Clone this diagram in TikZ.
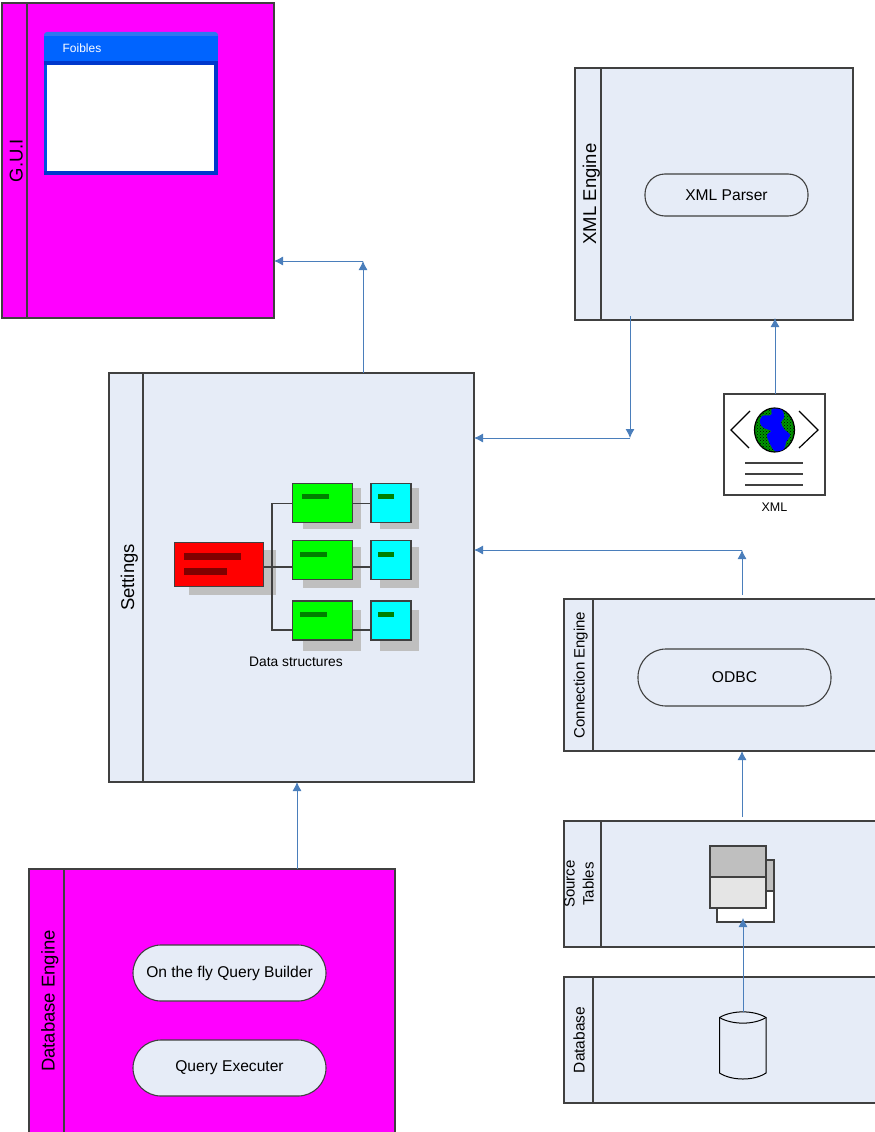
\documentclass[tikz,border=0pt]{standalone}
\usepackage{fontspec}
\setmainfont{Liberation Sans}
\usetikzlibrary{shapes,arrows.meta,patterns}
\definecolor{paleblue}{HTML}{E6ECF7}
\definecolor{edgegrey}{HTML}{404040}
\definecolor{flowblue}{HTML}{4A7EBB}
\definecolor{shadowgrey}{HTML}{BFBFBF}
\definecolor{winblue}{HTML}{0064FF}
\definecolor{windark}{HTML}{0038CC}
\definecolor{winside}{HTML}{0050E0}
\definecolor{winlight}{HTML}{2E78F0}
\definecolor{hotpink}{HTML}{FF00FF}
\definecolor{aqua}{HTML}{00FFFF}
\definecolor{lime}{HTML}{00FF00}
\definecolor{redcard}{HTML}{FF0000}
\definecolor{redbar}{HTML}{800000}
\definecolor{greenbar}{HTML}{008000}
\tikzstyle{lane} = [draw=edgegrey, line width=1.1pt, fill=paleblue, rectangle, inner sep=0pt, outer sep=0pt, anchor=north west]
\tikzstyle{hotlane} = [lane, fill=hotpink]
\tikzstyle{lanehead} = [draw=edgegrey, line width=1.1pt, rectangle, inner sep=0pt, outer sep=0pt, rotate=90, font=\fontsize{18.5}{19}\selectfont, align=center]
\tikzstyle{onehead} = [lanehead, text height=16pt, text depth=0pt]
\tikzstyle{pill} = [draw=edgegrey, line width=1.1pt, fill=paleblue, rectangle, rounded corners=20pt, inner sep=0pt, outer sep=0pt, font=\fontsize{15.6}{17}\selectfont]
\tikzstyle{card} = [draw=edgegrey, line width=1.1pt, rectangle, inner sep=0pt, outer sep=0pt, anchor=north west]
\tikzstyle{shade} = [fill=shadowgrey, rectangle, inner sep=0pt, outer sep=0pt, anchor=north west]
\tikzstyle{bar} = [rectangle, inner sep=0pt, outer sep=0pt, anchor=north west]
\tikzstyle{tree} = [draw=edgegrey, line width=1.1pt]
\tikzstyle{flow} = [draw=flowblue, line width=0.9pt, -{Latex[length=9pt,width=9pt]}]
\tikzstyle{caption} = [font=\fontsize{12.5}{14}\selectfont]
\tikzstyle{thin} = [draw=black, line width=1.2pt]

\begin{document}
\begin{tikzpicture}[x=1pt,y=-1pt]
\useasboundingbox (0,0) rectangle (875,1132);

% lanes
\node[hotlane, name=gui, minimum width=272pt, minimum height=315pt] at (2,3) {};
\node[onehead, name=guihead, minimum width=315pt, minimum height=25pt] at (14.5,160.5) {G.U.I};
\node[lane, name=settings, minimum width=365pt, minimum height=409pt] at (109,373) {};
\node[onehead, name=settingshead, minimum width=409pt, minimum height=34pt] at (126,577.5) {Settings};
\node[lane, name=xmlengine, minimum width=278pt, minimum height=252pt] at (575,68) {};
\node[onehead, name=xmlhead, minimum width=252pt, minimum height=26pt] at (588,194) {XML Engine};
\node[lane, name=connection, minimum width=320pt, minimum height=152pt] at (564,599) {};
\node[onehead, name=connhead, minimum width=152pt, minimum height=29pt, font=\fontsize{15}{16}\selectfont, text height=12pt] at (578.5,675) {Connection Engine};
\node[lane, name=tables, minimum width=320pt, minimum height=126pt] at (564,821) {};
\node[lanehead, name=tableshead, minimum width=126pt, minimum height=37pt, font=\fontsize{15}{19}\selectfont, text depth=7pt] at (582.5,884) {Source\\Tables};
\node[lane, name=database, minimum width=320pt, minimum height=126pt] at (564,977) {};
\node[onehead, name=databasehead, minimum width=126pt, minimum height=29pt, font=\fontsize{15.5}{16}\selectfont, text height=12pt] at (578.5,1040) {Database};
\node[hotlane, name=dbengine, minimum width=366pt, minimum height=266pt] at (29,869) {};
\node[onehead, name=dbenginehead, minimum width=264pt, minimum height=35pt] at (46.5,1001) {Database Engine};

% window
\node[bar, name=wintop, fill=winlight, rounded corners=3pt, minimum width=174pt, minimum height=10pt] at (44,32) {};
\node[bar, name=wintitle, fill=winblue, minimum width=174pt, minimum height=25pt] at (44,36) {};
\node[bar, name=winband, fill=windark, minimum width=174pt, minimum height=4pt] at (44,61) {};
\node[bar, name=winleft, fill=winside, minimum width=4pt, minimum height=110pt] at (44,65) {};
\node[bar, name=winright, fill=windark, minimum width=4pt, minimum height=110pt] at (214,65) {};
\node[bar, name=winbottom, fill=windark, minimum width=174pt, minimum height=4pt] at (44,171) {};
\node[bar, name=winpane, fill=white, minimum width=167pt, minimum height=106pt] at (47,65) {};
\node[name=wintext, text=white, font=\fontsize{12}{14}\selectfont] at (82,48) {Foibles};

% pills
\node[pill, name=parser, minimum width=163pt, minimum height=42pt] at (726.5,195) {XML Parser};
\node[pill, name=odbc, minimum width=193pt, minimum height=57pt, rounded corners=28pt] at (734.5,677.5) {ODBC};
\node[pill, name=builder, minimum width=193pt, minimum height=56pt, rounded corners=28pt] at (229.5,973) {On the fly Query Builder};
\node[pill, name=executer, minimum width=193pt, minimum height=56pt, rounded corners=28pt] at (229.5,1068) {Query Executer};

% data structures
\node[shade, name=redshade, minimum width=87pt, minimum height=45pt] at (189,550) {};
\node[card, name=red, fill=redcard, minimum width=89pt, minimum height=44pt] at (174.5,542.5) {};
\node[bar, name=redbara, fill=redbar, minimum width=57pt, minimum height=7pt] at (184,553) {};
\node[bar, name=redbarb, fill=redbar, minimum width=43pt, minimum height=7pt] at (184,568) {};
\node[shade, name=shadea, minimum width=58pt, minimum height=41pt] at (303,488) {};
\node[shade, name=shadeb, minimum width=58pt, minimum height=41pt] at (303,547) {};
\node[shade, name=shadec, minimum width=58pt, minimum height=41pt] at (303,610) {};
\node[shade, name=shaded, minimum width=39pt, minimum height=41pt] at (380,488) {};
\node[shade, name=shadee, minimum width=39pt, minimum height=41pt] at (380,547) {};
\node[shade, name=shadef, minimum width=39pt, minimum height=41pt] at (380,610) {};
\node[card, name=greena, fill=lime, minimum width=60pt, minimum height=39pt] at (292.5,483.5) {};
\node[card, name=greenb, fill=lime, minimum width=60pt, minimum height=39pt] at (292.5,540.5) {};
\node[card, name=greenc, fill=lime, minimum width=60pt, minimum height=39pt] at (292.5,601) {};
\node[card, name=cyana, fill=aqua, minimum width=40pt, minimum height=39pt] at (371,483.5) {};
\node[card, name=cyanb, fill=aqua, minimum width=40pt, minimum height=39pt] at (371,540.5) {};
\node[card, name=cyanc, fill=aqua, minimum width=40pt, minimum height=39pt] at (371,601) {};
\node[bar, name=barga, fill=greenbar, minimum width=27pt, minimum height=5pt] at (302,494) {};
\node[bar, name=bargb, fill=greenbar, minimum width=27pt, minimum height=5pt] at (299.5,551.5) {};
\node[bar, name=bargc, fill=greenbar, minimum width=27pt, minimum height=5pt] at (299.5,611.5) {};
\node[bar, name=barca, fill=greenbar, minimum width=16pt, minimum height=5pt] at (378,494) {};
\node[bar, name=barcb, fill=greenbar, minimum width=16pt, minimum height=5pt] at (378,551.5) {};
\node[bar, name=barcc, fill=greenbar, minimum width=16pt, minimum height=5pt] at (377.5,611.5) {};
\node[caption, name=datalabel, font=\fontsize{13.8}{15}\selectfont] at (296,661.5) {Data structures};

\coordinate (Ta) at (272,503.5);
\coordinate (Tb) at (272,567);
\coordinate (Tc) at (272,630);
\draw[tree] (greena.west |- Ta) -- (Ta) -- (Tc) -- (greenc.west |- Tc);
\draw[tree] (red.east |- Tb) -- (greenb.west |- Tb);
\draw[tree] (greena.east |- Ta) -- (cyana.west |- Ta);
\draw[tree] (greenb.east |- Tb) -- (cyanb.west |- Tb);
\draw[tree] (greenc.east |- Tc) -- (cyanc.west |- Tc);

% xml document
\node[card, fill=white, name=xmldoc, minimum width=101pt, minimum height=101pt] at (724,394) {};
\node[caption, name=xmllabel] at (774.5,507.5) {XML};
\draw[thin] (750,411) -- (731,430) -- (749,448);
\draw[thin] (799,411) -- (818,430) -- (799,448);
\draw[draw=black, line width=1.2pt, pattern=crosshatch dots, pattern color=black, preaction={fill=green!60!black}] (774.5,430) ellipse (20pt and 22pt);
\fill[blue] plot[smooth cycle, tension=0.6] coordinates {(772,409) (782,410) (784,418) (781,422) (784,429) (790,435) (786,442) (784,449) (775,451) (769,442) (767,435) (771,431) (764,428) (760,423) (762,416) (771,415)};
\draw[edgegrey, line width=1.1pt] (745,463) -- (803,463);
\draw[edgegrey, line width=1.1pt] (745,474) -- (803,474);
\draw[edgegrey, line width=1.1pt] (745,485) -- (803,485);

% source tables
\node[card, name=backtable, fill=white, minimum width=57pt, minimum height=62pt] at (717,860) {};
\node[card, name=backhead, fill=shadowgrey, minimum width=57pt, minimum height=31pt] at (717,860) {};
\node[card, name=fronttable, fill=black!10, minimum width=56pt, minimum height=62pt] at (710,846) {};
\node[card, name=fronthead, fill=shadowgrey, minimum width=56pt, minimum height=31pt] at (710,846) {};

% cylinder
\draw[draw=black, line width=1pt, fill=paleblue] (719.5,1017.5) .. controls (732,1010) and (754,1010) .. (766,1017.5) -- (766,1073) .. controls (754,1081) and (732,1081) .. (719.5,1073) -- cycle;
\draw[draw=black, line width=1pt] (719.5,1017.5) .. controls (732,1025) and (754,1025) .. (766,1017.5);
\coordinate (drum) at (743,1012);

% connectors
\coordinate (guiturn) at (363,261);
\coordinate (xmlturn) at (630,438);
\coordinate (xmlstart) at (630,316);
\coordinate (connturn) at (742,550);
\coordinate (connstart) at (742,595);
\coordinate (tablestart) at (742,817);
\coordinate (tableend) at (743,918);
\coordinate (docend) at (775,318);
\coordinate (dbstart) at (297,869);
\draw[flow] (settings.north -| guiturn) -- (guiturn);
\draw[flow] (guiturn) -- (gui.east |- guiturn);
\draw[flow] (xmlstart) -- (xmlturn);
\draw[flow] (xmlturn) -- (settings.east |- xmlturn);
\draw[flow] (xmldoc.north -| docend) -- (docend);
\draw[flow] (connstart) -- (connturn);
\draw[flow] (connturn) -- (settings.east |- connturn);
\draw[flow] (tablestart) -- (connection.south -| tablestart);
\draw[flow] (drum) -- (tableend);
\draw[flow] (dbengine.north -| dbstart) -- (settings.south -| dbstart);

\end{tikzpicture}
\end{document}
